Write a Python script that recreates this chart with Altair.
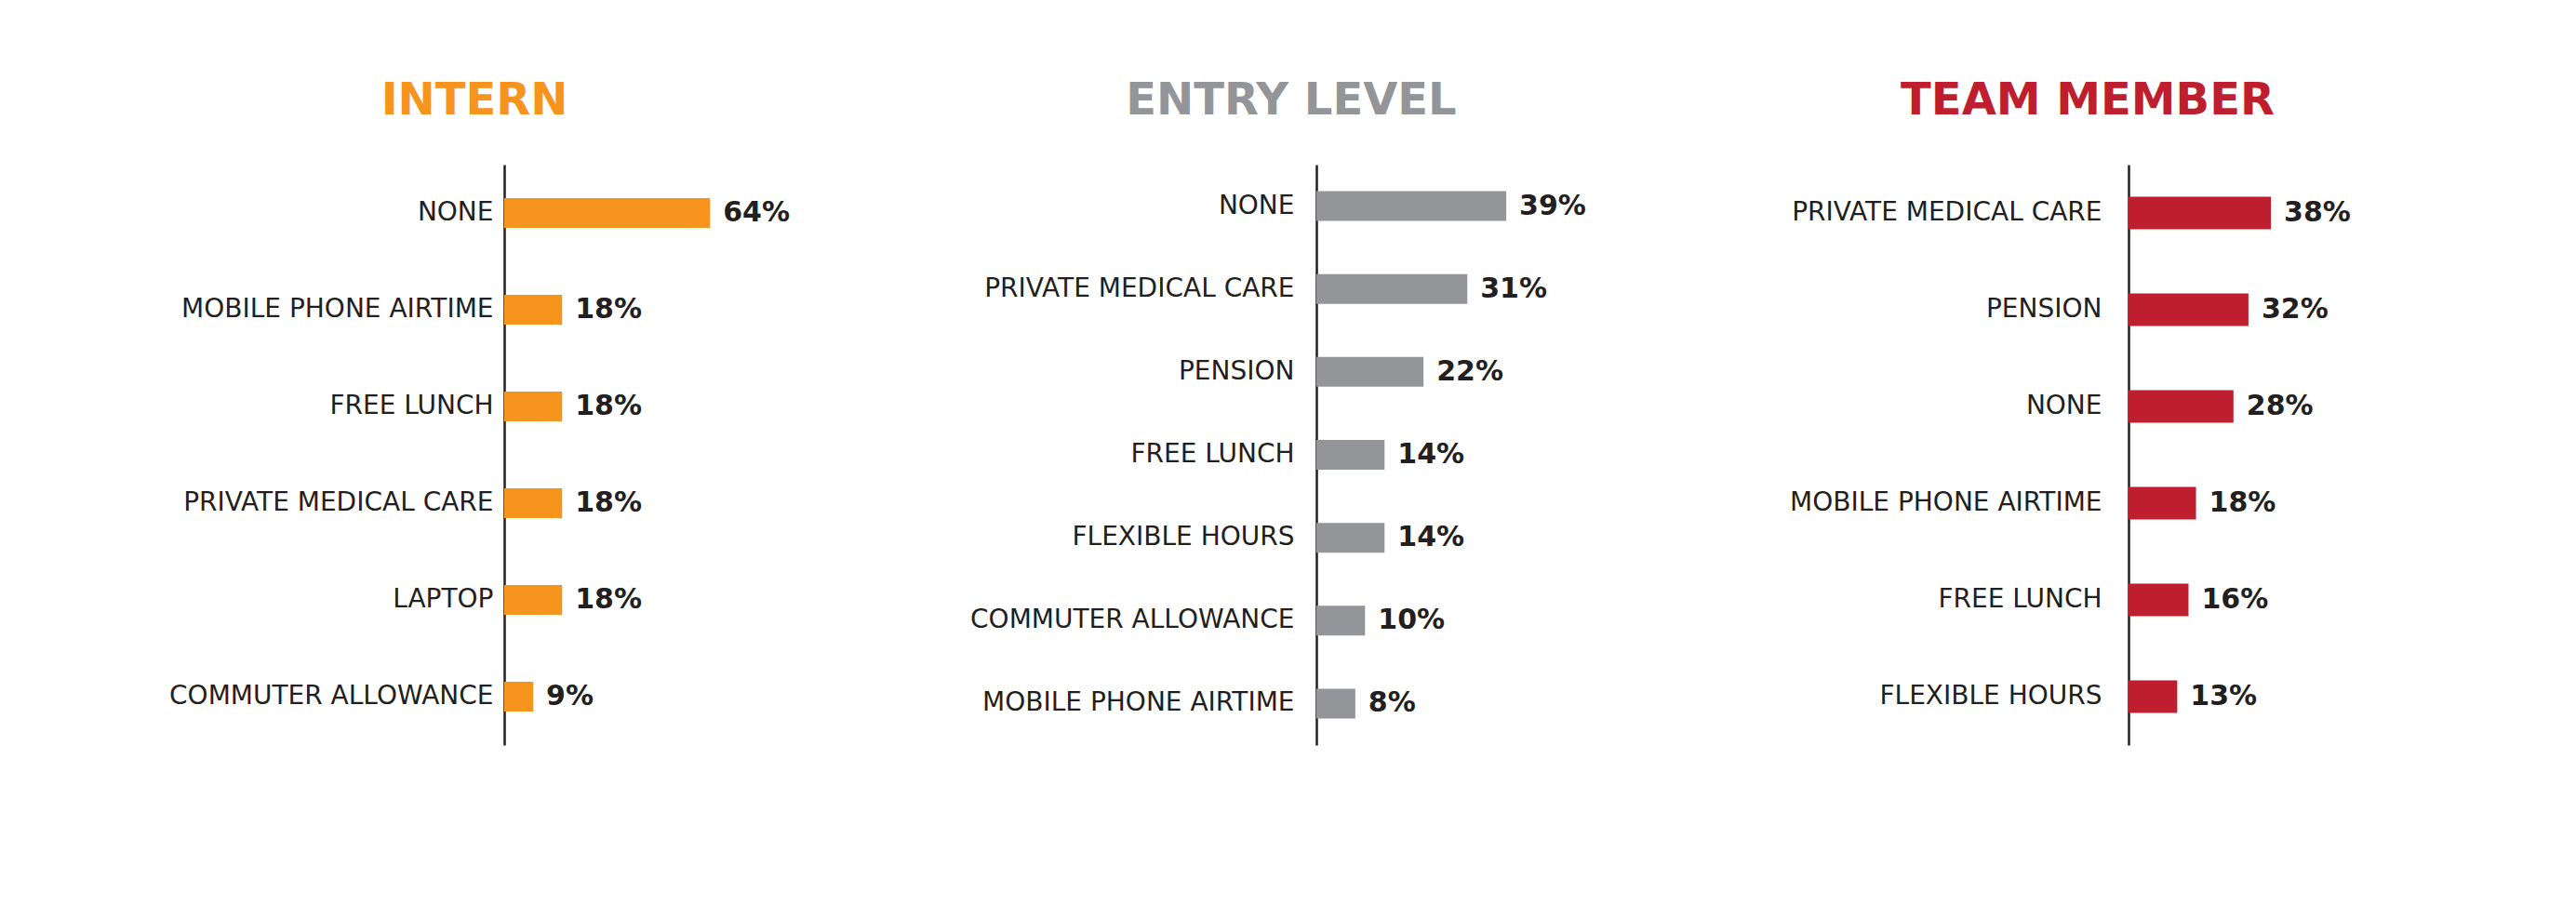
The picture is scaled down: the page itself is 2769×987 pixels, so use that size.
import altair as alt
import pandas as pd

intern_cats = ["NONE", "MOBILE PHONE AIRTIME", "FREE LUNCH", "PRIVATE MEDICAL CARE", "LAPTOP", "COMMUTER ALLOWANCE"]
intern_vals = [64, 18, 18, 18, 18, 9]

entry_cats = ["NONE", "PRIVATE MEDICAL CARE", "PENSION", "FREE LUNCH", "FLEXIBLE HOURS", "COMMUTER ALLOWANCE", "MOBILE PHONE AIRTIME"]
entry_vals = [39, 31, 22, 14, 14, 10, 8]

team_cats = ["PRIVATE MEDICAL CARE", "PENSION", "NONE", "MOBILE PHONE AIRTIME", "FREE LUNCH", "FLEXIBLE HOURS"]
team_vals = [38, 32, 28, 18, 16, 13]

INK = "#231f20"
FONT = "DejaVu Sans"


def panel(title, color, cats, vals, xmax, bar_size, label_pad, title_dx):
    df = pd.DataFrame({"benefit": cats, "pct": vals})
    df["label"] = df["pct"].astype(str) + "%"
    y = alt.Y(
        "benefit:N",
        sort=cats,
        title=None,
        scale=alt.Scale(paddingInner=0, paddingOuter=0),
        axis=alt.Axis(
            domainColor=INK,
            domainWidth=2.5,
            ticks=False,
            grid=False,
            labelPadding=label_pad,
            labelFont=FONT,
            labelFontSize=28,
            labelColor=INK,
            labelLimit=0,
        ),
    )
    x = alt.X("pct:Q", scale=alt.Scale(domain=[0, xmax]), axis=None)
    base = alt.Chart(df).encode(y=y, x=x)
    bars = base.mark_bar(color=color, size=bar_size)
    text = base.mark_text(
        align="left", baseline="middle", dx=14, font=FONT,
        fontWeight="bold", fontSize=30, color=INK,
    ).encode(text="label:N")
    return alt.layer(bars, text).properties(
        width=280,
        height=624,
        title=alt.TitleParams(
            title, color=color, font=FONT, fontSize=48, fontWeight="bold",
            anchor="start", align="center", dx=title_dx, frame="group",
            baseline="alphabetic", offset=6,
        ),
    )


p1 = panel("INTERN", "#F7941E", intern_cats, intern_vals, 81, 32, 12, -32)
p2 = panel("ENTRY LEVEL", "#939598", entry_cats, entry_vals, 53.5, 32, 24, -27)
p3 = panel("TEAM MEMBER", "#BE1E2D", team_cats, team_vals, 69.5, 35, 29, -44)

chart = alt.hconcat(p1, p2, p3, spacing=593, bounds="flush").properties(
    padding={"left": 173, "top": 77, "right": 5, "bottom": 5},
    background="#ffffff",
).configure_view(stroke=None)

chart.save("out.html", embed_options={"renderer": "svg", "actions": False})
